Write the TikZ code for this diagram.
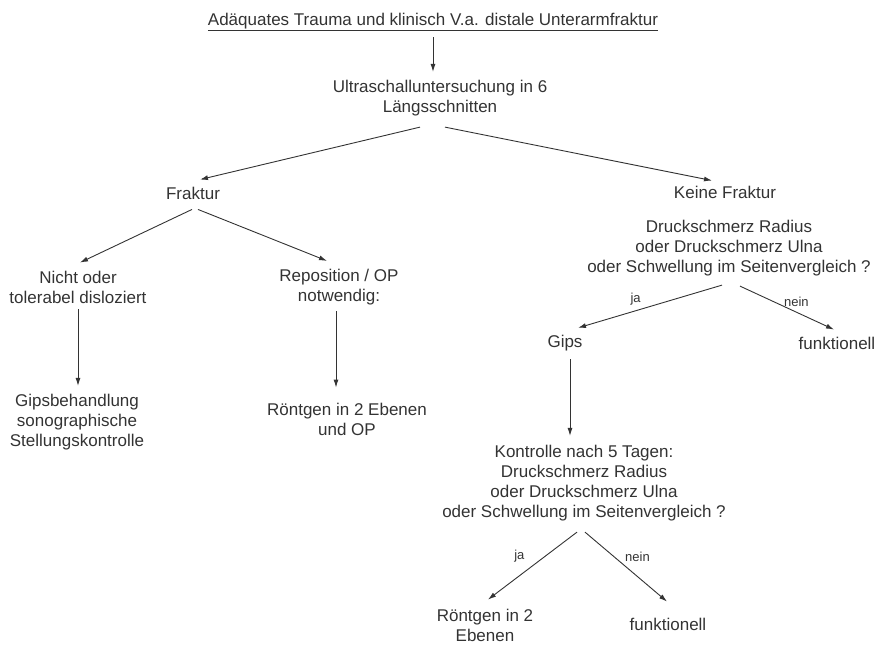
\documentclass[tikz,border=0pt]{standalone}
\usepackage{fontspec}
\setmainfont{Liberation Sans}
\usetikzlibrary{arrows.meta}

\begin{document}
\begin{tikzpicture}[x=1pt,y=-1pt,>={Latex[length=8pt,width=5pt]},
        txt/.style={align=center,inner sep=0pt,text=black!80,font=\fontsize{17}{20}\selectfont},
        conn/.style={->,draw=black!80,line width=0.9pt},
        lbl/.style={font=\fontsize{13}{15}\selectfont,text=black!80,inner sep=1pt}]
        \useasboundingbox (0,0) rectangle (878,645);

        % the question at the top and the first examination
        \node[txt] (title) at (433,22) {\underline{Adäquates Trauma und klinisch V.a. distale Unterarmfraktur}};
        \node[txt] (us) at (440,98) {Ultraschalluntersuchung in 6\\Längsschnitten};

        % left branch
        \node[txt] (fr) at (193,193) {Fraktur};
        \node[txt] (nd) at (78,287) {Nicht oder\\tolerabel disloziert};
        \node[txt] (rp) at (339,287) {Reposition / OP\\notwendig:};
        \node[txt] (gb) at (77,422) {Gipsbehandlung\\sonographische\\Stellungskontrolle};
        \node[txt] (re) at (347,419) {Röntgen in 2 Ebenen\\und OP};

        % right branch
        \node[txt] (kf) at (725,192) {Keine Fraktur};
        \node[txt] (dr) at (729,248) {Druckschmerz Radius\\oder Druckschmerz Ulna\\oder Schwellung im Seitenvergleich ?};
        \node[txt] (gi) at (565,343) {Gips};
        \node[txt] (fu) at (837,343) {funktionell};
        \node[txt] (ko) at (584,483) {Kontrolle nach 5 Tagen:\\Druckschmerz Radius\\oder Druckschmerz Ulna\\oder Schwellung im Seitenvergleich ?};
        \node[txt] (rz) at (485,625) {Röntgen in 2\\Ebenen};
        \node[txt] (fb) at (668,624) {funktionell};

        % arrows
        \draw[conn,shorten <=6pt,shorten >=8pt] (title.south) -- (title.south |- us.north);
        \draw[conn] ([xshift=-20pt,yshift=-11pt]us.south) -- ([xshift=7pt,yshift=7pt]fr.north);
        \draw[conn] ([xshift=5pt,yshift=-11pt]us.south) -- ([xshift=-13pt,yshift=5pt]kf.north);

        \draw[conn] ([xshift=-1pt,yshift=-10pt]fr.south) -- ([xshift=2pt,yshift=8pt]nd.north);
        \draw[conn] ([xshift=5pt,yshift=-10pt]fr.south) -- ([xshift=-12pt,yshift=8pt]rp.north);
        \draw[conn,shorten <=6pt,shorten >=8pt] (nd.south) -- (nd.south |- gb.north);
        \draw[conn,shorten <=6pt,shorten >=15pt] ([xshift=-3pt]rp.south) -- ([xshift=-3pt]rp.south |- re.north);

        \draw[conn] ([xshift=-7pt,yshift=-9pt]dr.south) -- node[lbl,pos=0.6,above=4pt] {ja} ([xshift=13pt,yshift=7pt]gi.north);
        \draw[conn] ([xshift=11pt,yshift=-10pt]dr.south) -- node[lbl,pos=0.6,above=4pt] {nein} ([xshift=-3pt,yshift=7pt]fu.north);
        \draw[conn,shorten <=8pt,shorten >=9pt] ([xshift=5pt]gi.south) -- ([xshift=5pt]gi.south |- ko.north);
        \draw[conn] ([xshift=-7pt,yshift=-11pt]ko.south) -- node[lbl,pos=0.35,left=20pt] {ja} ([xshift=3pt,yshift=9pt]rz.north);
        \draw[conn] ([xshift=1pt,yshift=-11pt]ko.south) -- node[lbl,pos=0.35,right=10pt] {nein} ([xshift=-1pt,yshift=16pt]fb.north);
\end{tikzpicture}
\end{document}
